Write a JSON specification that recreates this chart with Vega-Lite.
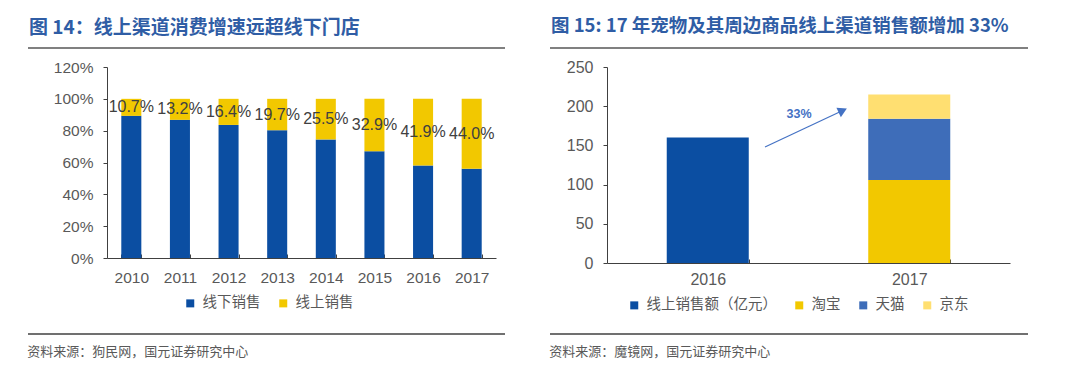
{
  "$schema": "https://vega.github.io/schema/vega-lite/v6.json",
  "padding": {"left": 27, "top": 16, "right": 0, "bottom": 0},
  "background": "white",
  "config": {
    "view": {"stroke": null},
    "font": "Liberation Sans",
    "axis": {"grid": false, "domainColor": "#404040", "tickColor": "#404040", "labelColor": "#595959", "labelFont": "Liberation Sans", "domainWidth": 1, "tickWidth": 1, "labelOverlap": false},
    "legend": {"symbolType": "square", "symbolSize": 64, "symbolStrokeWidth": 0, "labelFontSize": 14.5, "labelColor": "#595959", "labelFont": "Noto Sans CJK SC", "columnPadding": 15, "labelOffset": 5, "labelLimit": 300, "padding": 0}
  },
  "datasets": {
    "share": [
      {"year": "2010", "type": "线下销售", "share": 0.893},
      {"year": "2010", "type": "线上销售", "share": 0.107},
      {"year": "2011", "type": "线下销售", "share": 0.868},
      {"year": "2011", "type": "线上销售", "share": 0.132},
      {"year": "2012", "type": "线下销售", "share": 0.836},
      {"year": "2012", "type": "线上销售", "share": 0.164},
      {"year": "2013", "type": "线下销售", "share": 0.803},
      {"year": "2013", "type": "线上销售", "share": 0.197},
      {"year": "2014", "type": "线下销售", "share": 0.745},
      {"year": "2014", "type": "线上销售", "share": 0.255},
      {"year": "2015", "type": "线下销售", "share": 0.671},
      {"year": "2015", "type": "线上销售", "share": 0.329},
      {"year": "2016", "type": "线下销售", "share": 0.581},
      {"year": "2016", "type": "线上销售", "share": 0.419},
      {"year": "2017", "type": "线下销售", "share": 0.56},
      {"year": "2017", "type": "线上销售", "share": 0.44}
    ],
    "sales": [
      {"year": "2016", "platform": "线上销售额（亿元）", "value": 160},
      {"year": "2017", "platform": "淘宝", "value": 106},
      {"year": "2017", "platform": "天猫", "value": 78},
      {"year": "2017", "platform": "京东", "value": 31}
    ],
    "arrow": [
      {"x1": 0.784, "y1": 148, "x2": 1.17, "y2": 194.5}
    ],
    "note": [
      {"x": 0.953, "y": 190, "label": "33%"}
    ]
  },
  "columns": 2,
  "bounds": "flush",
  "spacing": {"row": 0, "column": 111},
  "resolve": {"scale": {"x": "independent", "y": "independent", "color": "independent"}, "legend": {"color": "independent"}},
  "concat": [
    {
      "width": 389, "height": 19,
      "title": {"text": "图 14：线上渠道消费增速远超线下门店", "fontSize": 19, "font": "Noto Sans CJK SC", "fontWeight": "bold", "color": "#2F5DA5", "anchor": "start", "frame": "bounds", "dx": 2, "offset": 9},
      "data": {"values": [{}]},
      "mark": {"type": "rule", "color": "#808080", "strokeWidth": 2},
      "encoding": {
        "x": {"datum": 0, "type": "quantitative", "scale": {"domain": [0, 1], "range": [-79, 398], "nice": false, "zero": false}, "axis": null},
        "x2": {"datum": 1},
        "y": {"datum": 1, "type": "quantitative", "scale": {"domain": [0, 1], "nice": false}, "axis": null}
      }
    },
    {
      "width": 403, "height": 19,
      "title": {"text": "图 15: 17 年宠物及其周边商品线上渠道销售额增加 33%", "fontSize": 18.5, "font": "Noto Sans CJK SC", "fontWeight": "bold", "color": "#2F5DA5", "anchor": "start", "frame": "bounds", "dx": 2, "offset": 12},
      "data": {"values": [{}]},
      "mark": {"type": "rule", "color": "#808080", "strokeWidth": 2},
      "encoding": {
        "x": {"datum": 0, "type": "quantitative", "scale": {"domain": [0, 1], "range": [-57, 421], "nice": false, "zero": false}, "axis": null},
        "x2": {"datum": 1},
        "y": {"datum": 1, "type": "quantitative", "scale": {"domain": [0, 1], "nice": false}, "axis": null}
      }
    },
    {
      "width": 389, "height": 191,
      "data": {"name": "share"},
      "encoding": {
        "x": {"field": "year", "type": "ordinal", "scale": {"paddingInner": 0.588, "paddingOuter": 0.294},
              "axis": {"title": null, "labelAngle": 0, "tickBand": "extent", "tickSize": -4, "labelPadding": 16, "labelFontSize": 15.5}}
      },
      "layer": [
        {
          "mark": {"type": "bar"},
          "encoding": {
            "y": {"field": "share", "type": "quantitative", "stack": "zero", "scale": {"domain": [0, 1.2], "nice": false},
                  "axis": {"title": null, "format": ".0%", "values": [0, 0.2, 0.4, 0.6, 0.8, 1, 1.2], "tickSize": 4, "labelPadding": 10, "labelFontSize": 15.5, "labelOverlap": false}},
            "color": {"field": "type", "type": "nominal", "scale": {"domain": ["线下销售", "线上销售"], "range": ["#0B4EA2", "#F2C800"]},
                      "legend": {"orient": "none", "legendX": 76, "legendY": 229, "direction": "horizontal", "title": null}},
            "order": {"field": "type", "sort": "descending"}
          }
        },
        {
          "transform": [{"filter": "datum.type === '线上销售'"}, {"calculate": "1 - datum.share / 2", "as": "mid"}],
          "mark": {"type": "text", "fontSize": 16, "color": "#404040", "font": "Liberation Sans"},
          "encoding": {
            "y": {"field": "mid", "type": "quantitative",
                  "axis": {"title": null, "format": ".0%", "values": [0, 0.2, 0.4, 0.6, 0.8, 1, 1.2], "tickSize": 4, "labelPadding": 10, "labelFontSize": 15.5, "labelOverlap": false}},
            "text": {"field": "share", "type": "quantitative", "format": ".1%"}
          }
        }
      ]
    },
    {
      "width": 403, "height": 196,
      "resolve": {"scale": {"x": "independent"}, "axis": {"x": "independent"}},
      "layer": [
        {
          "data": {"name": "sales"},
          "mark": {"type": "bar"},
          "encoding": {
            "x": {"field": "year", "type": "ordinal", "scale": {"paddingInner": 0.593, "paddingOuter": 0.2965},
                  "axis": {"title": null, "labelAngle": 0, "tickBand": "extent", "tickSize": -4, "labelPadding": 12, "labelFontSize": 16}},
            "y": {"field": "value", "type": "quantitative", "stack": "zero", "scale": {"domain": [0, 250], "nice": false},
                  "axis": {"title": null, "values": [0, 50, 100, 150, 200, 250], "tickSize": 4, "labelPadding": 10, "labelFontSize": 16, "labelOverlap": false}},
            "color": {"field": "platform", "type": "nominal",
                      "scale": {"domain": ["线上销售额（亿元）", "淘宝", "天猫", "京东"], "range": ["#0B4EA2", "#F2C800", "#3E6DB9", "#FFDF71"]},
                      "legend": {"orient": "none", "legendX": 20, "legendY": 231, "direction": "horizontal", "title": null}},
            "order": {"field": "platform", "sort": "descending"}
          }
        },
        {
          "data": {"name": "arrow"},
          "mark": {"type": "rule", "color": "#4472C4", "strokeWidth": 1.2},
          "encoding": {
            "x": {"field": "x1", "type": "quantitative", "scale": {"domain": [0, 2], "nice": false}, "axis": null},
            "x2": {"field": "x2"},
            "y": {"field": "y1", "type": "quantitative",
                  "axis": {"title": null, "values": [0, 50, 100, 150, 200, 250], "tickSize": 4, "labelPadding": 10, "labelFontSize": 16, "labelOverlap": false}},
            "y2": {"field": "y2"}
          }
        },
        {
          "data": {"name": "arrow"},
          "mark": {"type": "point", "shape": "triangle-right", "filled": true, "size": 110, "angle": -25, "color": "#4472C4", "opacity": 1},
          "encoding": {
            "x": {"field": "x2", "type": "quantitative", "scale": {"domain": [0, 2], "nice": false}, "axis": null},
            "y": {"field": "y2", "type": "quantitative",
                  "axis": {"title": null, "values": [0, 50, 100, 150, 200, 250], "tickSize": 4, "labelPadding": 10, "labelFontSize": 16, "labelOverlap": false}}
          }
        },
        {
          "data": {"name": "note"},
          "mark": {"type": "text", "color": "#4472C4", "fontWeight": "bold", "fontSize": 12.5, "font": "Liberation Sans"},
          "encoding": {
            "x": {"field": "x", "type": "quantitative", "scale": {"domain": [0, 2], "nice": false}, "axis": null},
            "y": {"field": "y", "type": "quantitative",
                  "axis": {"title": null, "values": [0, 50, 100, 150, 200, 250], "tickSize": 4, "labelPadding": 10, "labelFontSize": 16, "labelOverlap": false}},
            "text": {"field": "label"}
          }
        }
      ]
    },
    {
      "width": 389, "height": 71,
      "title": {"text": "资料来源：狗民网，国元证券研究中心", "orient": "bottom", "anchor": "start", "frame": "bounds", "fontSize": 13, "fontWeight": "normal", "color": "#595959", "font": "Noto Sans CJK SC", "offset": 11},
      "data": {"values": [{}]},
      "mark": {"type": "rule", "color": "#404040", "strokeWidth": 1.5},
      "encoding": {
        "x": {"datum": 0, "type": "quantitative", "scale": {"domain": [0, 1], "range": [-79, 398], "nice": false, "zero": false}, "axis": null},
        "x2": {"datum": 1},
        "y": {"datum": 0, "type": "quantitative", "scale": {"domain": [0, 1], "nice": false}, "axis": null}
      }
    },
    {
      "width": 403, "height": 71,
      "title": {"text": "资料来源：魔镜网，国元证券研究中心", "orient": "bottom", "anchor": "start", "frame": "bounds", "fontSize": 13, "fontWeight": "normal", "color": "#595959", "font": "Noto Sans CJK SC", "offset": 11},
      "data": {"values": [{}]},
      "mark": {"type": "rule", "color": "#404040", "strokeWidth": 1.5},
      "encoding": {
        "x": {"datum": 0, "type": "quantitative", "scale": {"domain": [0, 1], "range": [-57, 421], "nice": false, "zero": false}, "axis": null},
        "x2": {"datum": 1},
        "y": {"datum": 0, "type": "quantitative", "scale": {"domain": [0, 1], "nice": false}, "axis": null}
      }
    }
  ]
}
